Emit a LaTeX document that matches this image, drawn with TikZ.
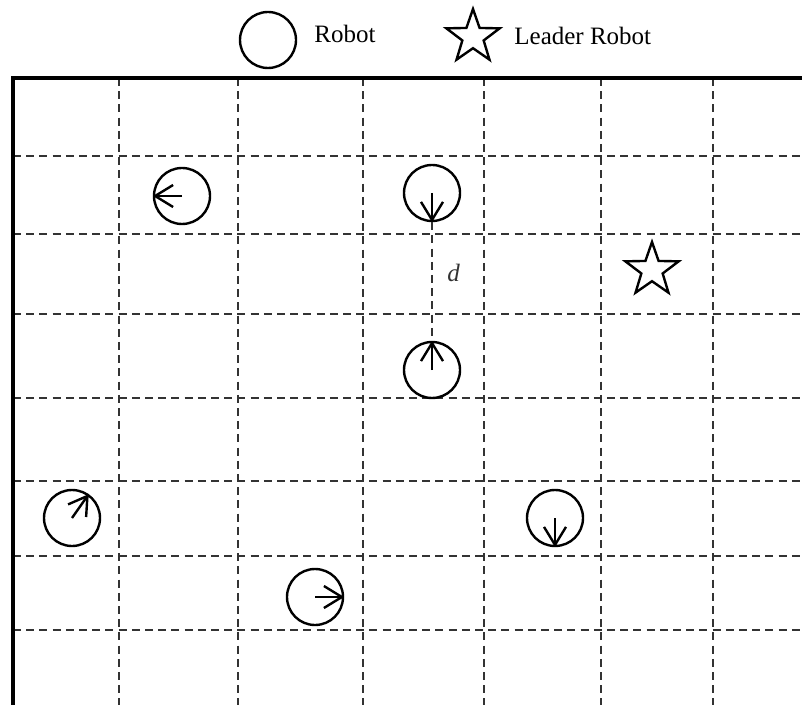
\documentclass[tikz,border=0pt]{standalone}
\usepackage{fontspec}
\setmainfont{Liberation Serif}
\usetikzlibrary{arrows.meta,positioning,shapes.geometric}

\begin{document}
\begin{tikzpicture}[
   x=0.5pt,y=-0.5pt,
   font=\fontsize{12.5}{15}\selectfont,
   robot/.style={circle,draw,line width=1.2pt,minimum size=28pt,inner sep=0pt},
   leader/.style={star,star points=5,star point ratio=2.5,draw,line width=1.2pt,minimum size=28pt,inner sep=0pt},
   heading/.style={line width=1.2pt,-{Straight Barb[length=9pt,width=11pt]}},
   keytext/.style={anchor=base west,inner sep=0pt},
   gridline/.style={dash pattern=on 4pt off 2.6pt,line width=0.6pt,black!80},
   border/.style={line width=2pt}]
 \useasboundingbox (0,0) rectangle (802,705);
 \foreach \x in {119,238,363,484,601,713}
   \draw[gridline] (\x,78) -- (\x,705);
 \foreach \y in {156,234,314,398,481,556,630}
   \draw[gridline] (13,\y) -- (802,\y);
 \draw[border] (13,705) |- (802,78);
 \node[robot] (key) at (268,40) {};
 \node[keytext] (keytxt) at (314,43) {Robot};
 \node[leader] (keystar) at (473,37) {};
 \node[keytext] (keystartxt) at (514,45) {Leader Robot};
 \node[robot] (ra) at (182,196) {};
 \node[robot] (rb) at (432,193) {};
 \node[robot] (rc) at (432,370) {};
 \node[robot] (rd) at (72,518) {};
 \node[robot] (re) at (555,518) {};
 \node[robot] (rf) at (315,597) {};
 \node[leader] (lead) at (652,270) {};
 \draw[heading] (ra.center) -- (ra.west);
 \draw[heading] (rb.center) -- (rb.south);
 \draw[heading] (rc.center) -- (rc.north);
 \draw[heading] (rd.center) -- (rd.55);
 \draw[heading] (re.center) -- (re.south);
 \draw[heading] (rf.center) -- (rf.east);
 \draw[gridline] (rb.south) -- node[pos=0.43,right=4pt] (dist) {\textit{d}} (rc.north);
\end{tikzpicture}
\end{document}
